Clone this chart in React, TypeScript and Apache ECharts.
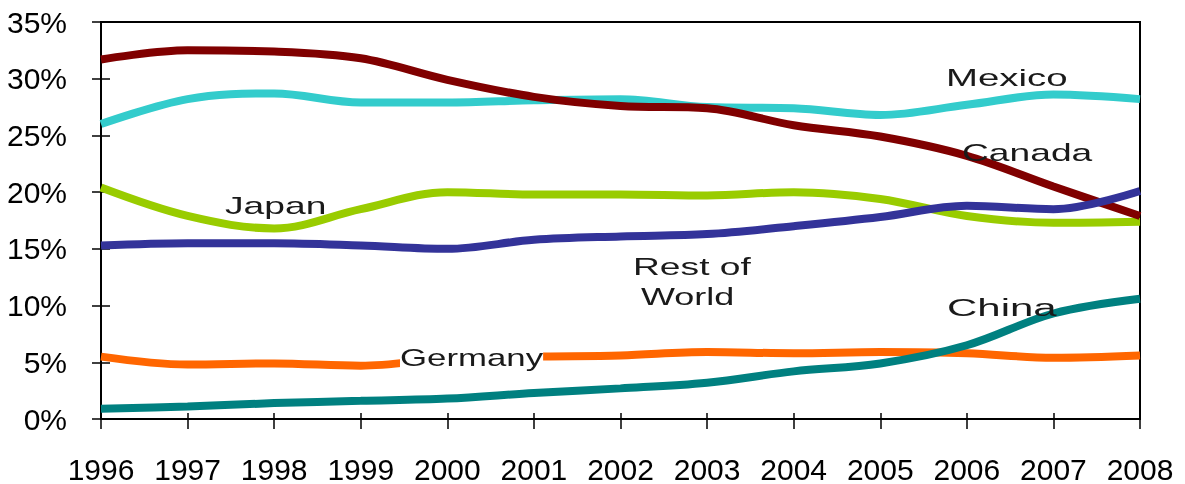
import React, { useEffect, useRef } from "react";
import * as echarts from "echarts";

const years = ["1996", "1997", "1998", "1999", "2000", "2001", "2002", "2003", "2004", "2005", "2006", "2007", "2008"];
const canada = [31.7, 32.5, 32.4, 31.8, 29.9, 28.4, 27.6, 27.4, 25.9, 24.9, 23.2, 20.5, 17.9];
const mexico = [26.0, 28.2, 28.7, 27.9, 27.9, 28.1, 28.2, 27.5, 27.4, 26.8, 27.7, 28.6, 28.2];
const japan = [20.4, 17.9, 16.8, 18.5, 20.0, 19.8, 19.8, 19.7, 20.0, 19.4, 17.9, 17.3, 17.4];
const restOfWorld = [15.3, 15.5, 15.5, 15.3, 15.0, 15.8, 16.1, 16.3, 17.0, 17.8, 18.8, 18.5, 20.1];
const germany = [5.5, 4.8, 4.9, 4.7, 5.3, 5.5, 5.6, 5.9, 5.8, 5.9, 5.8, 5.4, 5.6];
const china = [0.9, 1.1, 1.4, 1.6, 1.8, 2.3, 2.7, 3.2, 4.2, 4.9, 6.5, 9.3, 10.6];

const seriesDefs = [
  { name: "Germany", data: germany, color: "#FF6600" },
  { name: "Japan", data: japan, color: "#99CC00" },
  { name: "Mexico", data: mexico, color: "#33CCCC" },
  { name: "Canada", data: canada, color: "#800000" },
  { name: "Rest of World", data: restOfWorld, color: "#333399" },
  { name: "China", data: china, color: "#008080" },
];

const labelFont = "'Liberation Sans', Arial, sans-serif";

function annot(text: string, x: number, y: number, sx: number, bg?: boolean) {
  return {
    type: "text",
    x,
    y,
    scaleX: sx,
    z: 100,
    style: {
      text,
      font: `24px ${labelFont}`,
      fill: "#1a1a1a",
      textAlign: "left",
      textVerticalAlign: "middle",
      ...(bg ? { backgroundColor: "#fff", padding: [0, 0] } : {}),
    },
  };
}

export default function App() {
  const ref = useRef<HTMLDivElement>(null);
  useEffect(() => {
    if (!ref.current) return;
    const chart = echarts.init(ref.current, null, { renderer: "svg" });
    const axisText = { color: "#000", fontFamily: labelFont };
    const tickStyle = { color: "#000", width: 1.5 };
    chart.setOption({
      animation: false,
      grid: { left: 101, right: 45, top: 22, bottom: 63, show: true, borderColor: "#000", borderWidth: 2 },
      xAxis: [
        {
          type: "category",
          data: years,
          boundaryGap: false,
          axisLine: { show: true, lineStyle: { color: "#000", width: 2 } },
          axisTick: { show: true, interval: 0, length: 10, lineStyle: tickStyle },
          axisLabel: { ...axisText, fontSize: 30, margin: 35, interval: 0, hideOverlap: false },
          splitLine: { show: false },
        },
        {
          type: "category",
          data: years,
          boundaryGap: false,
          position: "top",
          axisLine: { show: true, onZero: false, lineStyle: { color: "#000", width: 2 } },
          axisTick: { show: false },
          axisLabel: { show: false },
          splitLine: { show: false },
        },
        {
          type: "category",
          data: years,
          boundaryGap: false,
          position: "bottom",
          axisLine: { show: false, onZero: false },
          axisTick: { show: true, interval: 0, inside: true, length: 6, lineStyle: tickStyle },
          axisLabel: { show: false },
          splitLine: { show: false },
        },
      ],
      yAxis: [
        {
          type: "value",
          min: 0,
          max: 35,
          interval: 5,
          axisLine: { show: true, lineStyle: { color: "#000", width: 2 } },
          axisTick: { show: true, length: 9, lineStyle: tickStyle },
          axisLabel: { ...axisText, fontSize: 30, margin: 34, formatter: "{value}%" },
          splitLine: { show: false },
        },
        {
          type: "value",
          min: 0,
          max: 35,
          interval: 5,
          position: "right",
          axisLine: { show: true, onZero: false, lineStyle: { color: "#000", width: 2 } },
          axisTick: { show: false },
          axisLabel: { show: false },
          splitLine: { show: false },
        },
        {
          type: "value",
          min: 0,
          max: 35,
          interval: 5,
          position: "left",
          axisLine: { show: false, onZero: false },
          axisTick: { show: true, inside: true, length: 9, lineStyle: tickStyle },
          axisLabel: { show: false },
          splitLine: { show: false },
        },
      ],
      series: seriesDefs.map((s) => ({
        name: s.name,
        type: "line",
        data: s.data,
        smooth: 0.35,
        symbol: "none",
        lineStyle: { color: s.color, width: 8 },
        itemStyle: { color: s.color },
      })),
      graphic: [
        annot("Mexico", 946, 78, 1.6),
        annot("Canada", 962, 153, 1.55),
        annot("Japan", 225, 206, 1.55),
        annot("Rest of", 633, 267, 1.55),
        annot("World", 641, 296, 1.5),
        annot("China", 947, 308, 1.75),
        annot("Germany", 400, 358, 1.45, true),
      ],
    });
    return () => chart.dispose();
  }, []);
  return <div ref={ref} style={{ position: "fixed", left: 0, top: 0, width: 1185, height: 484 }} />;
}
